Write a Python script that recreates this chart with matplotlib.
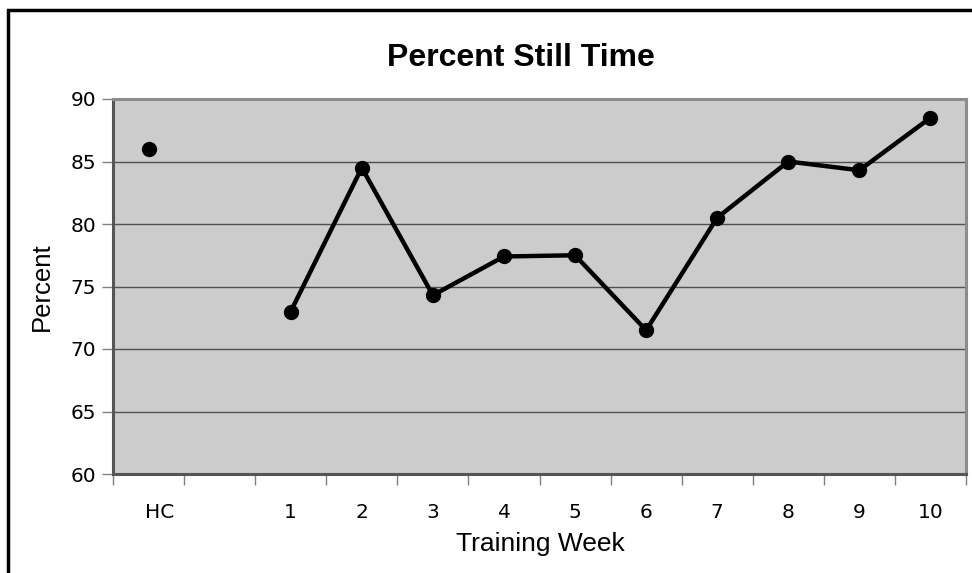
import matplotlib
matplotlib.use("Agg")
import matplotlib.pyplot as plt
import matplotlib.transforms as mtransforms
from matplotlib.patches import Rectangle
import numpy as np

# Data
categories = ["HC", "", "1", "2", "3", "4", "5", "6", "7", "8", "9", "10"]
percent = [86.0, np.nan, 73.0, 84.5, 74.3, 77.4, 77.5, 71.5, 80.5, 85.0, 84.3, 88.5]
y_ticks = [60, 65, 70, 75, 80, 85, 90]

fig = plt.figure(figsize=(9.72, 5.73), dpi=100)
ax = fig.add_axes([113/972, 99/573, 853/972, 375/573])

x = np.arange(len(categories))
ax.plot(x, percent, color="black", lw=3.2, marker="o", ms=10, zorder=3,
        solid_joinstyle="round", solid_capstyle="round")

ax.set_facecolor("#cccccc")
ax.set_xlim(-0.5, len(categories) - 0.5)
ax.set_ylim(60, 90)

# grid lines
for v in y_ticks[1:-1]:
    ax.axhline(v, color="#505050", lw=1.0, zorder=1)

for side in ["top", "right"]:
    ax.spines[side].set_color("#8c8c8c")
    ax.spines[side].set_linewidth(2.2)
for side in ["left", "bottom"]:
    ax.spines[side].set_color("#555555")
    ax.spines[side].set_linewidth(2.2)

ax.set_yticks(y_ticks)
ax.tick_params(axis="y", length=8, width=1, color="#808080", labelsize=14.5, pad=4)
ax.set_xticks(x)
ax.set_xticklabels(categories)
ax.set_xticks(np.arange(-0.5, len(categories)), minor=True)
ax.tick_params(axis="x", which="major", length=0, labelsize=14.5, pad=21)
ax.tick_params(axis="x", which="minor", length=8, width=1, color="#808080")

# the HC label sits a little right of its point
hc = ax.get_xticklabels()[0]
hc.set_transform(hc.get_transform() + mtransforms.ScaledTranslation(0.11, 0, fig.dpi_scale_trans))

fig.text(521/972, 1 - 58/573, "Percent Still Time", ha="center", va="center",
         fontsize=23, fontweight="bold", family="Liberation Sans")
fig.text(540/972, 1 - 544/573, "Training Week", ha="center", va="center",
         fontsize=19, family="Liberation Sans")
fig.text(42/972, 1 - 287/573, "Percent", ha="center", va="center", rotation=90,
         fontsize=18.5, family="Liberation Sans")

# outer frame
fig.patches.append(Rectangle((8/972, -0.05), 1.1, 1 - 10/573 + 0.05,
                             transform=fig.transFigure, fill=False,
                             edgecolor="black", lw=2.5))

fig.savefig("out.png", dpi=100)
